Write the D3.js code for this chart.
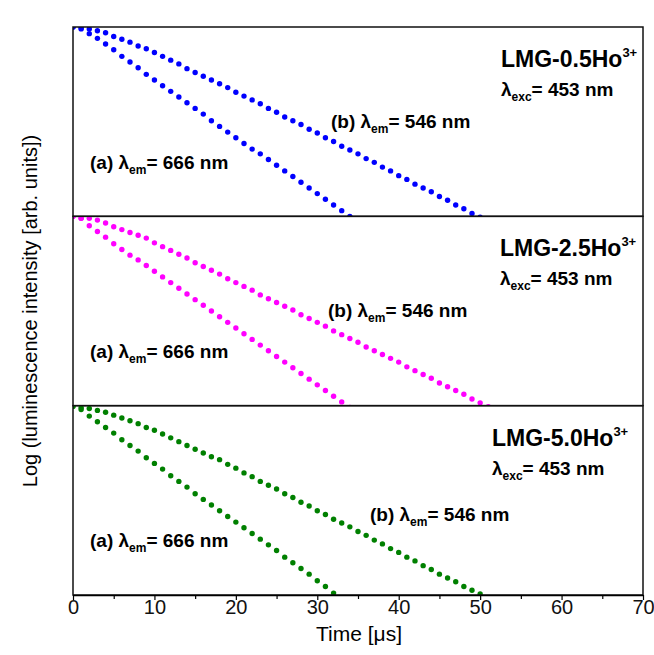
<!DOCTYPE html>
<html>
<head>
<meta charset="utf-8">
<script src="https://cdn.jsdelivr.net/npm/d3@7"></script>
<style>
  body { margin: 0; background: #fff; }
  text { font-family: "Liberation Sans", Arial, sans-serif; }
</style>
</head>
<body>
<div id="chart"></div>
<script>
// time between two decay points, in microseconds
var timeStep = 1;

// panel names and colours
var samples = ["LMG-0.5Ho", "LMG-2.5Ho", "LMG-5.0Ho"];
var colors = ["#0000ff", "#ff00ff", "#008000"];

// log intensity, (b) λem = 546 nm, one value per µs from t = 0
var b05 = [0, -0.01, -0.02, -0.04, -0.06, -0.10, -0.13, -0.16, -0.20, -0.23,
  -0.27, -0.31, -0.35, -0.39, -0.44, -0.48, -0.52, -0.56, -0.60, -0.64,
  -0.69, -0.73, -0.77, -0.81, -0.86, -0.90, -0.95, -0.99, -1.03, -1.08,
  -1.12, -1.17, -1.21, -1.26, -1.30, -1.34, -1.39, -1.43, -1.48, -1.52,
  -1.57, -1.61, -1.66, -1.70, -1.74, -1.79, -1.83, -1.88, -1.92, -1.97,
  -2.01, -2.05];
var b25 = [0, -0.02, -0.02, -0.04, -0.07, -0.11, -0.14, -0.17, -0.20, -0.23,
  -0.28, -0.32, -0.36, -0.40, -0.44, -0.49, -0.53, -0.57, -0.61, -0.66,
  -0.70, -0.74, -0.78, -0.83, -0.87, -0.91, -0.95, -0.99, -1.04, -1.08,
  -1.12, -1.16, -1.21, -1.25, -1.29, -1.33, -1.38, -1.42, -1.46, -1.50,
  -1.54, -1.59, -1.63, -1.67, -1.71, -1.76, -1.80, -1.84, -1.88, -1.93,
  -1.97, -2.01, -2.05];
var b50 = [-0.01, -0.02, -0.03, -0.05, -0.07, -0.10, -0.13, -0.16, -0.19, -0.23,
  -0.26, -0.30, -0.34, -0.38, -0.42, -0.46, -0.50, -0.54, -0.57, -0.62,
  -0.66, -0.71, -0.75, -0.80, -0.84, -0.88, -0.93, -0.97, -1.02, -1.06,
  -1.11, -1.15, -1.20, -1.24, -1.28, -1.33, -1.37, -1.42, -1.46, -1.51,
  -1.55, -1.60, -1.64, -1.69, -1.73, -1.78, -1.82, -1.86, -1.91, -1.95,
  -1.99, -2.03];

// log intensity, (a) λem = 666 nm
var a05 = [0, -0.02, -0.07, -0.12, -0.18, -0.24, -0.31, -0.37, -0.43, -0.50,
  -0.56, -0.62, -0.68, -0.74, -0.80, -0.86, -0.92, -0.99, -1.05, -1.11,
  -1.17, -1.23, -1.29, -1.34, -1.40, -1.46, -1.52, -1.58, -1.64, -1.70,
  -1.76, -1.82, -1.88, -1.94, -2.00, -2.06];
var a25 = [0, -0.02, -0.10, -0.16, -0.22, -0.29, -0.35, -0.41, -0.46, -0.52,
  -0.58, -0.64, -0.70, -0.76, -0.82, -0.88, -0.94, -1.00, -1.06, -1.12,
  -1.18, -1.24, -1.30, -1.36, -1.42, -1.48, -1.54, -1.60, -1.66, -1.72,
  -1.78, -1.84, -1.90, -1.96, -2.02];
var a50 = [0, -0.04, -0.11, -0.17, -0.23, -0.29, -0.36, -0.42, -0.48, -0.55,
  -0.61, -0.67, -0.74, -0.80, -0.86, -0.93, -0.99, -1.05, -1.11, -1.17,
  -1.23, -1.29, -1.35, -1.41, -1.47, -1.53, -1.60, -1.66, -1.72, -1.78,
  -1.85, -1.91, -1.98, -2.04];

var seriesB = [b05, b25, b50];
var seriesA = [a05, a25, a50];

var xTicks = [0, 10, 20, 30, 40, 50, 60, 70];
var xMinor = [5, 15, 25, 35, 45, 55, 65];

// where the labels of each panel start
var titleX = [501, 500, 492];
var bLabelX = [331, 328, 370];

// set the dimensions and margins of the graph
var W = 654, H = 655;
var margin = {top: 27, right: 11, bottom: 60, left: 73},
    width = W - margin.left - margin.right,
    height = H - margin.top - margin.bottom,
    panelH = height / 3;

var svg = d3.select("#chart")
  .append("svg")
    .attr("width", W)
    .attr("height", H)
  .append("g")
    .attr("transform", "translate(" + margin.left + "," + margin.top + ")");

var x = d3.scaleLinear()
    .domain([0, 70])
    .range([0, width]);

samples.forEach(function(name, i) {
  var top = i * panelH;
  var y = d3.scaleLinear()
      .domain([-2, 0])
      .range([top + panelH, top]);

  svg.append("clipPath").attr("id", "clip" + i)
    .append("rect")
      .attr("x", 0).attr("y", top)
      .attr("width", width).attr("height", panelH);

  var g = svg.append("g").attr("clip-path", "url(#clip" + i + ")");

  [seriesB[i], seriesA[i]].forEach(function(vals) {
    g.selectAll(null)
        .data(vals)
        .enter()
        .append("circle")
          .attr("cx", function(d, k) { return x(k * timeStep); })
          .attr("cy", function(d) { return y(d); })
          .attr("r", 2.7)
          .style("fill", colors[i]);
  });

  // sample name with superscript
  var t = svg.append("text")
      .attr("x", titleX[i] - margin.left)
      .attr("y", top + 40)
      .style("font-size", "23px")
      .style("font-weight", "bold");
  t.append("tspan").text(name);
  t.append("tspan").attr("dy", -10).style("font-size", "13px").text("3+");

  // excitation wavelength
  var e = svg.append("text")
      .attr("x", titleX[i] - margin.left)
      .attr("y", top + 69)
      .style("font-size", "19px")
      .style("font-weight", "bold");
  e.append("tspan").text("λ");
  e.append("tspan").attr("dy", 5).style("font-size", "12px").text("exc");
  e.append("tspan").attr("dy", -5).text("= 453 nm");

  // series labels
  var lb = svg.append("text")
      .attr("x", bLabelX[i] - margin.left)
      .attr("y", top + (i == 2 ? 115 : 101))
      .style("font-size", "19px")
      .style("font-weight", "bold");
  lb.append("tspan").text("(b) λ");
  lb.append("tspan").attr("dy", 5).style("font-size", "12px").text("em");
  lb.append("tspan").attr("dy", -5).text("= 546 nm");

  var la = svg.append("text")
      .attr("x", 90 - margin.left)
      .attr("y", top + (i == 2 ? 141 : 142))
      .style("font-size", "19px")
      .style("font-weight", "bold");
  la.append("tspan").text("(a) λ");
  la.append("tspan").attr("dy", 5).style("font-size", "12px").text("em");
  la.append("tspan").attr("dy", -5).text("= 666 nm");

  // panel frame
  svg.append("rect")
      .attr("x", 0).attr("y", top)
      .attr("width", width).attr("height", panelH)
      .style("fill", "none")
      .style("stroke", "#111")
      .style("stroke-width", 1.5);
});

// X axis
var xAxis = svg.append("g")
    .attr("transform", "translate(0," + height + ")")
    .call(d3.axisBottom(x).tickValues(xTicks).tickSize(5).tickSizeOuter(0));
xAxis.select(".domain").style("stroke-width", 1.5);
xAxis.selectAll(".tick line").style("stroke-width", 1.2);
xAxis.selectAll("text")
    .attr("y", 5)
    .style("font-size", "20px")
    .style("font-family", "'Liberation Sans', Arial, sans-serif")
    .style("fill", "#111");

svg.append("g")
    .attr("transform", "translate(0," + height + ")")
    .call(d3.axisBottom(x).tickValues(xMinor).tickSize(4).tickFormat(""))
    .call(function(a) { a.select(".domain").remove(); })
    .selectAll(".tick line").style("stroke-width", 1.2);

// text label for the x axis
svg.append("text")
    .attr("x", width / 2 + 1)
    .attr("y", height + 46)
    .style("text-anchor", "middle")
    .style("font-size", "21px")
    .text("Time [μs]");

// text label for the y axis
svg.append("text")
    .attr("transform", "rotate(-90)")
    .attr("x", -height / 2)
    .attr("y", -36)
    .style("text-anchor", "middle")
    .style("font-size", "20px")
    .text("Log (luminescence intensity [arb. units])");
</script>
</body>
</html>
